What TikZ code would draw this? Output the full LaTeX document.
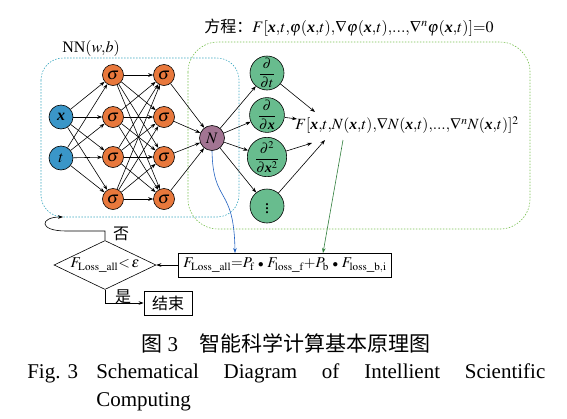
\documentclass[tikz,border=0pt]{standalone}
\usepackage{mathptmx}
\usepackage[no-math]{fontspec}
\setmainfont{Liberation Serif}
\newfontfamily\cjk{Noto Sans CJK SC}
\usetikzlibrary{arrows.meta,shapes.geometric}
\definecolor{inblue}{RGB}{58,150,200}
\definecolor{sigorange}{RGB}{232,120,60}
\definecolor{npurple}{RGB}{162,116,146}
\definecolor{dgreen}{RGB}{104,188,142}
\definecolor{boxcyan}{RGB}{60,168,192}
\definecolor{boxgreen}{RGB}{120,192,80}
\definecolor{lineblue}{RGB}{32,96,192}
\definecolor{linegreen}{RGB}{46,125,58}
\newcommand{\bx}{\textbf{\textit{x}}}
\newcommand{\mdot}{\ {\scriptstyle\bullet}\ }
\mathcode`\,="013B % tight commas as in the figure
\begin{document}
\begin{tikzpicture}[x=1pt, y=-1pt, line width=0.6pt,
    >={Stealth[length=5pt,width=3.6pt]},
    font=\fontsize{16}{19}\selectfont,
    inp/.style={circle, draw, fill=inblue, minimum size=24pt, inner sep=0pt},
    sig/.style={circle, draw, fill=sigorange, minimum size=21pt, inner sep=0pt,
        font=\fontsize{17}{19}\selectfont},
    outn/.style={circle, draw, fill=npurple, minimum size=25pt, inner sep=0pt},
    der/.style={circle, draw, fill=dgreen, minimum size=34pt, inner sep=0pt,
        font=\fontsize{14}{16}\selectfont},
    rectbox/.style={draw, line width=0.8pt, inner sep=0pt},
    captext/.style={font=\fontsize{21}{28}\selectfont}]
    \useasboundingbox (0,0) rectangle (567,418);

    % dotted groups
    \draw[boxcyan, dash pattern=on 1.5pt off 1.5pt, rounded corners=22pt]
        (41,58) rectangle (239,217);
    \draw[boxgreen, dash pattern=on 1.5pt off 1.5pt, rounded corners=30pt]
        (188,42) rectangle (530,229);
    \node (nnlabel) at (91,48) {NN$(w,b)$};
    \node (eqlabel) at (349,28) {{\cjk 方程：}$F[\bx,t,\varphi(\bx,t),\nabla\varphi(\bx,t),...,\nabla^n\varphi(\bx,t)]{=}0$};

    % network
    \node[inp] (x) at (61,117) {$\bx$};
    \node[inp] (t) at (61,158) {$t$};
    \foreach \y [count=\i] in {75,117,157,199} {
        \node[sig] (a\i) at (113,\y) {$\sigma$};
        \node[sig] (b\i) at (164,\y) {$\sigma$};
    }
    \node[outn] (N) at (212,138) {$N$};

    \foreach \i in {1,...,4} {
        \draw[->] (x) -- (a\i);
        \draw[->] (t) -- (a\i);
        \foreach \j in {1,...,4}
            \draw[->] (a\i) -- (b\j);
        \draw[->] (b\i) -- (N);
    }

    % derivatives
    \node[der] (d1) at (267,73) {$\displaystyle\frac{\partial}{\partial t}$};
    \node[der] (d2) at (267,115) {$\displaystyle\frac{\partial}{\partial \bx}$};
    \node[der] (d3) at (267,157) {$\displaystyle\frac{\partial^2}{\partial \bx^2}$};
    \node[der, font=\fontsize{18}{20}\selectfont] (d4) at (267,206) {$\vdots$};
    \node[font=\fontsize{15.6}{18}\selectfont] (Fexpr) at (407,125) {$F[\bx,t,N(\bx,t),\nabla N(\bx,t),...,\nabla^n N(\bx,t)]^2$};
    \coordinate (c1) at (315,112);
    \coordinate (c2) at (297,119);
    \coordinate (c3) at (312,143);
    \coordinate (c4) at (325,140);
    \foreach \i in {1,...,4} {
        \draw[->] (N) -- (d\i);
        \draw[->] (d\i) -- (c\i);
    }

    % loss and decision
    \node[rectbox, minimum width=213pt, minimum height=24pt, font=\fontsize{15}{18}\selectfont] (loss) at (285,265)
        {$F_{\mathrm{Loss\_all}}{=}P_{\mathrm{f}}\mdot F_{\mathrm{loss\_f}}{+}P_{\mathrm{b}}\mdot F_{\mathrm{loss\_b,i}}$};
    \node[diamond, draw, aspect=2, inner sep=0pt, minimum width=102pt, minimum height=49pt,
        font=\fontsize{15}{18}\selectfont] (check) at (105,265)
        {$F_{\mathrm{Loss\_all}}{<}\,\varepsilon$};
    \node[rectbox, minimum width=48pt, minimum height=24pt] (stop) at (168,303) {\cjk 结束};
    \node (no) at (121,234) {\cjk 否};
    \node (yes) at (123,297) {\cjk 是};

    \coordinate (gtop) at (343,140);
    \coordinate (gbot) at (323,253);
    \coordinate (bbot) at (235,253);
    \coordinate (back) at (63,217);
    \draw[->, linegreen] (gtop) -- (gbot);
    \draw[->, lineblue] (N.south) .. controls (213,205) and (234,185) .. (bbot);
    \draw[->] (loss) -- (check);
    \draw[->] (check.north) |- (66,231) .. controls (38,231) and (40,217) .. (back);
    \draw[->] (check.south) |- (stop);

    % caption
    \node[captext] (cap1) at (286,343) {\cjk 图 {\rmfamily 3}\quad 智能科学计算基本原理图};
    \node[captext, anchor=base west, inner sep=0pt] (cap2) at (27,378) {Fig. 3};
    \node[captext, anchor=north west, inner sep=0pt, text width=449pt, align=justify] (cap3) at (96,363)
        {\hyphenpenalty=10000 Schematical Diagram of Intellient Scientific\linebreak Computing};
\end{tikzpicture}
\end{document}
